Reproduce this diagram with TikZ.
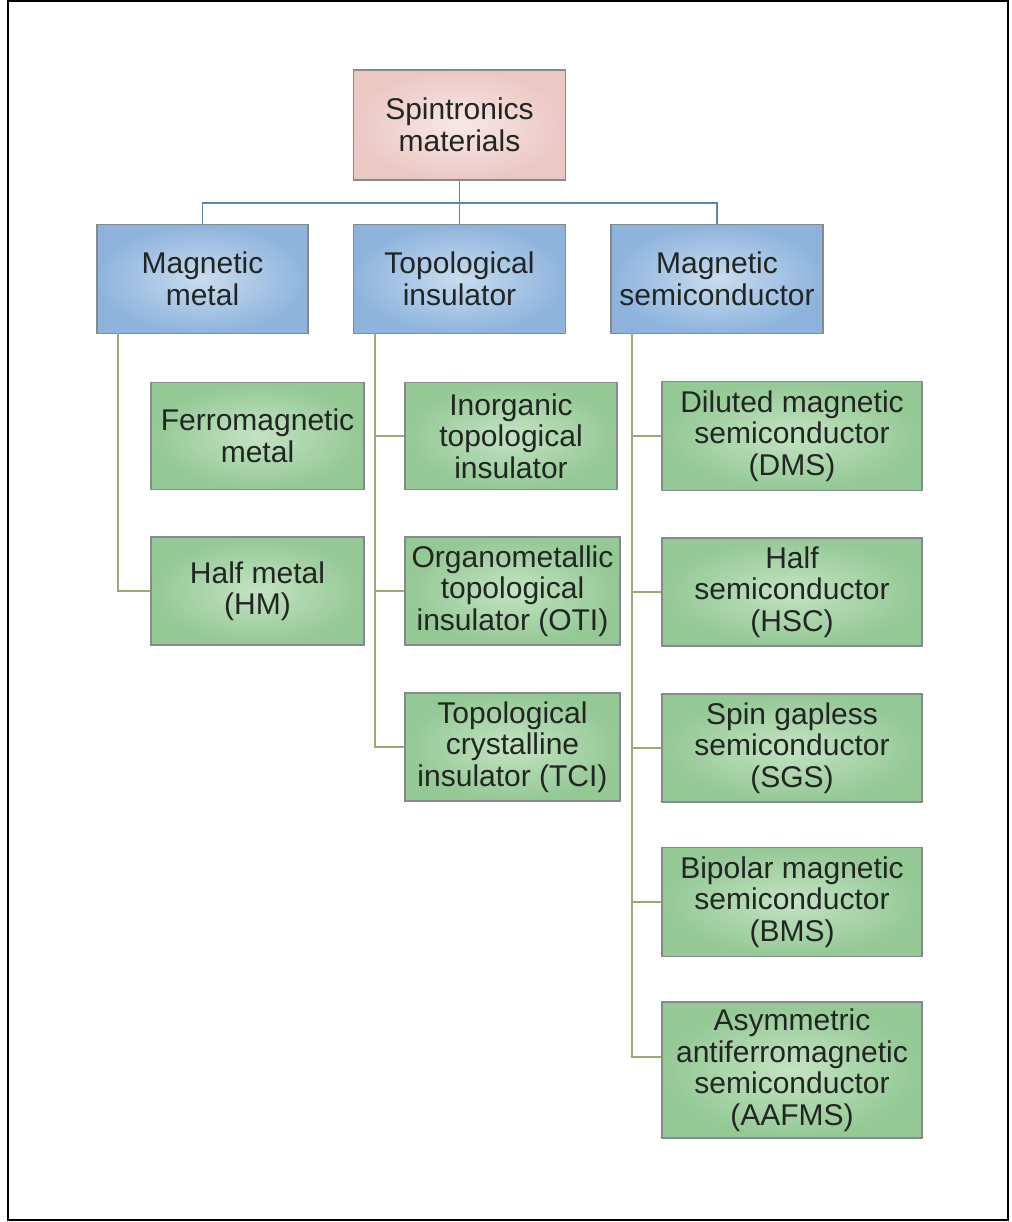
\documentclass[tikz,border=0pt]{standalone}
\usepackage{fontspec}
\setmainfont{Liberation Sans}
\usetikzlibrary{calc}

\definecolor{pinkout}{HTML}{ECC8C5}
\definecolor{pinkin}{HTML}{F7E8E6}
\definecolor{blueout}{HTML}{8EB4DD}
\definecolor{bluein}{HTML}{C9DCEF}
\definecolor{greenout}{HTML}{94C895}
\definecolor{greenin}{HTML}{C4E3C3}
\definecolor{boxline}{HTML}{858A8C}
\definecolor{busline}{HTML}{5A88A6}
\definecolor{stemline}{HTML}{9DAA72}
\definecolor{ink}{HTML}{222623}

\tikzset{
  card/.style={draw=boxline, line width=1.2, shading=radial, text=ink,
    align=center, inner sep=0pt,
    font=\fontsize{30}{31.5}\selectfont},
  rootbox/.style={card, inner color=pinkin, outer color=pinkout},
  groupbox/.style={card, inner color=bluein, outer color=blueout},
  leafbox/.style={card, inner color=greenin, outer color=greenout},
  bus/.style={draw=busline, line width=1.8},
  stem/.style={draw=stemline, line width=1.8},
}

\begin{document}
\begin{tikzpicture}[x=1pt,y=-1pt]
\useasboundingbox (0,0) rectangle (1011,1222);
\fill[white] (0,0) rectangle (1011,1222);
\draw[black, line width=2] (8,1) rectangle (1008,1220);

% top level
\node[rootbox, minimum width=212, minimum height=110] (root) at (459.5,125) {Spintronics\\materials};

% material groups
\node[groupbox, minimum width=211, minimum height=109] (mm) at (202.5,279) {Magnetic\\metal};
\node[groupbox, minimum width=212, minimum height=109] (ti) at (459.5,279) {Topological\\insulator};
\node[groupbox, minimum width=212, minimum height=109] (ms) at (717,279) {Magnetic\\semiconductor};

% magnetic metals
\node[leafbox, minimum width=213, minimum height=107] (fm) at (257.5,436) {Ferromagnetic\\metal};
\node[leafbox, minimum width=213, minimum height=108] (hm) at (257.5,591) {Half metal\\(HM)};

% topological insulators
\node[leafbox, minimum width=212, minimum height=107] (iti) at (511,436) {Inorganic\\topological\\insulator};
\node[leafbox, minimum width=215, minimum height=108] (oti) at (512.5,591) {Organometallic\\topological\\insulator (OTI)};
\node[leafbox, minimum width=215, minimum height=108] (tci) at (512.5,747) {Topological\\crystalline\\insulator (TCI)};

% magnetic semiconductors
\node[leafbox, minimum width=260, minimum height=109] (dms) at (792,436) {Diluted magnetic\\semiconductor\\(DMS)};
\node[leafbox, minimum width=260, minimum height=108] (hsc) at (792,592) {Half\\semiconductor\\(HSC)};
\node[leafbox, minimum width=260, minimum height=108] (sgs) at (792,748) {Spin gapless\\semiconductor\\(SGS)};
\node[leafbox, minimum width=260, minimum height=109] (bms) at (792,902) {Bipolar magnetic\\semiconductor\\(BMS)};
\node[leafbox, minimum width=260, minimum height=136] (aafms) at (792,1070) {Asymmetric\\antiferromagnetic\\semiconductor\\(AAFMS)};

% bus from the top box to the three groups
\coordinate (hub) at (459.5,203);
\draw[bus] (root.south) -- (ti.north);
\draw[bus] (mm.north) |- (hub);
\draw[bus] (ms.north) |- (hub);

% stems under each group
\coordinate (mmstem) at (118,333);
\coordinate (tistem) at (375,333);
\coordinate (msstem) at (632,333);
\coordinate (aafmsin) at ($(aafms.west)+(0,-13)$);

\draw[stem] (mmstem) |- (hm.west);

\draw[stem] (tistem) |- (tci.west);
\draw[stem] (tistem |- iti.west) -- (iti.west);
\draw[stem] (tistem |- oti.west) -- (oti.west);

\draw[stem] (msstem) |- (aafmsin);
\draw[stem] (msstem |- dms.west) -- (dms.west);
\draw[stem] (msstem |- hsc.west) -- (hsc.west);
\draw[stem] (msstem |- sgs.west) -- (sgs.west);
\draw[stem] (msstem |- bms.west) -- (bms.west);
\end{tikzpicture}
\end{document}
